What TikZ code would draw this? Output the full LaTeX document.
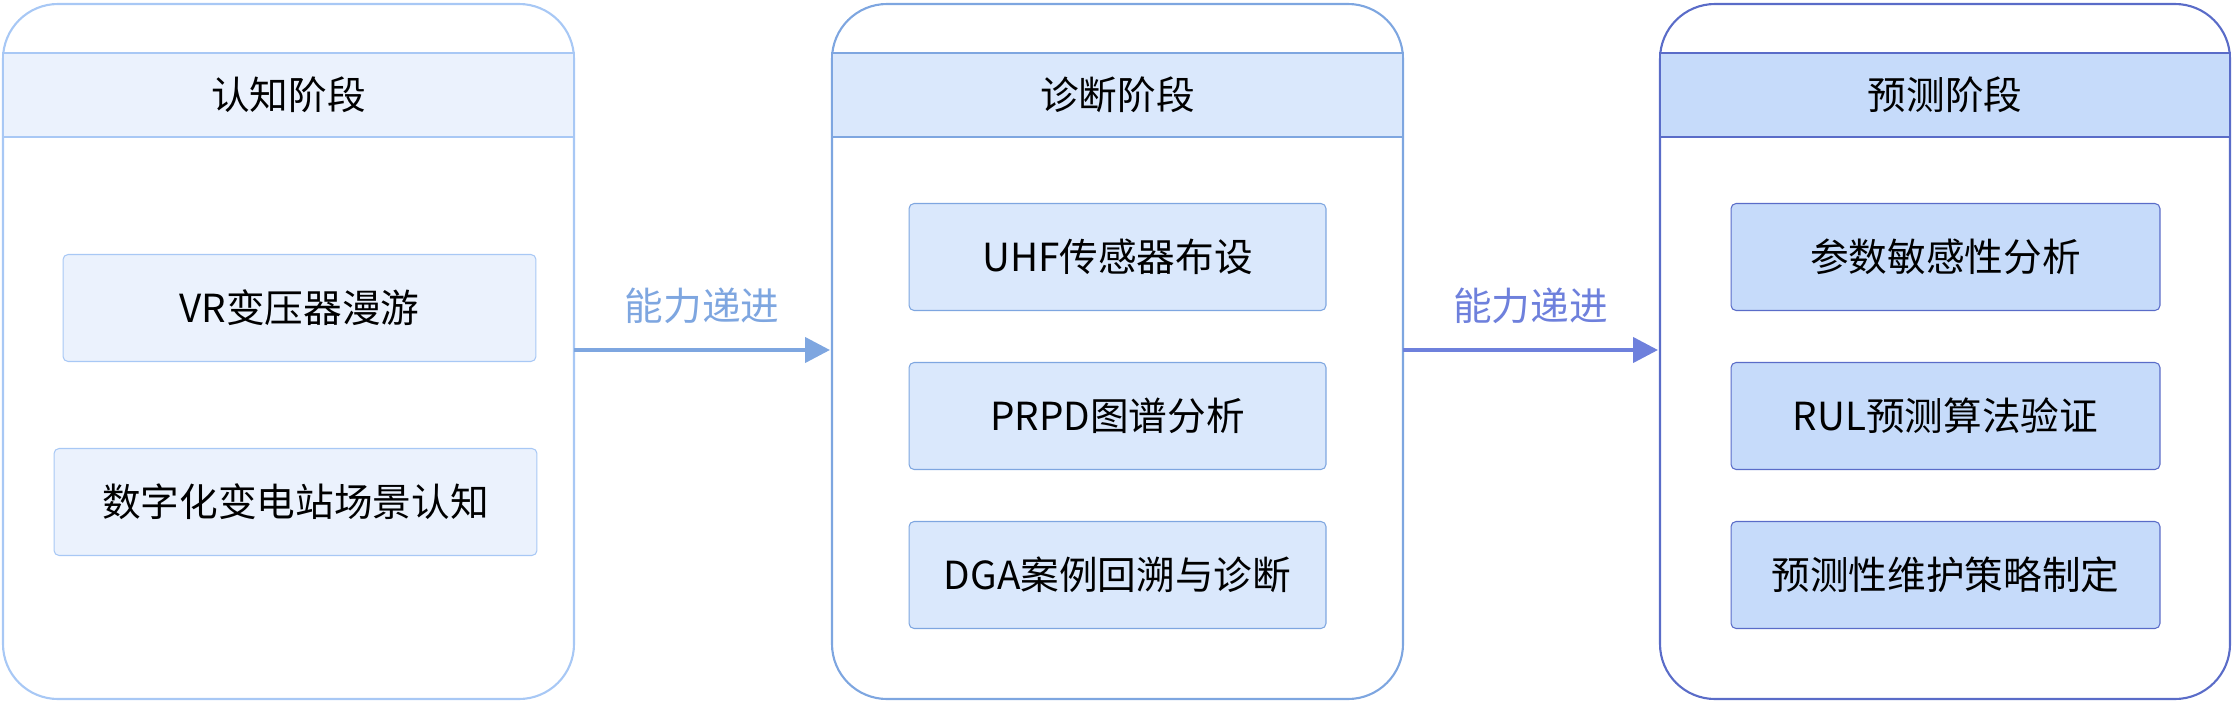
\documentclass[tikz,border=0pt]{standalone}
\usepackage{fontspec}
\setmainfont{Noto Sans CJK SC}
\usepackage{tikz}
\usetikzlibrary{positioning, arrows.meta}
\definecolor{stOneLine}{RGB}{168, 200, 245}
\definecolor{stOneFill}{RGB}{235, 242, 253}
\definecolor{stTwoLine}{RGB}{126, 166, 224}
\definecolor{stTwoFill}{RGB}{218, 232, 252}
\definecolor{stThreeLine}{RGB}{90, 108, 200}
\definecolor{stThreeFill}{RGB}{198, 219, 250}
\definecolor{stArrow}{RGB}{110, 128, 220}
\tikzset{
    base/.style={
        font=\fontsize{22}{26}\selectfont,
        align=center
    },
    stage/.style={
        rectangle,
        rounded corners=1.1cm,
        line width=1.2pt
    },
    header/.style={
        base,
        rectangle,
        line width=1pt,
        minimum height=1.68cm,
        inner sep=0pt
    },
    task/.style={
        base,
        rectangle,
        rounded corners=1mm,
        line width=0.6pt,
        minimum height=2.14cm,
        inner sep=0pt
    },
    flow/.style={
        -{Triangle[length=5mm, width=5mm]},
        line width=2.4pt
    },
    label/.style={
        base,
        inner sep=1pt
    }
}
\begin{document}
\begin{tikzpicture}[x=0.02cm, y=-0.02cm]
    \useasboundingbox (0,0) rectangle (2234,703);

    % stage frames
    \draw[stage, draw=stOneLine] (3,4) rectangle (574,699);
    \draw[stage, draw=stTwoLine] (832,4) rectangle (1403,699);
    \draw[stage, draw=stThreeLine] (1660,4) rectangle (2230,699);

    % headers
    \node[header, draw=stOneLine, fill=stOneFill, minimum width=11.42cm] (hOne) at (288.5,95) {认知阶段};
    \node[header, draw=stTwoLine, fill=stTwoFill, minimum width=11.42cm] (hTwo) at (1117.5,95) {诊断阶段};
    \node[header, draw=stThreeLine, fill=stThreeFill, minimum width=11.4cm] (hThree) at (1945,95) {预测阶段};

    % cognition tasks
    \node[task, draw=stOneLine, fill=stOneFill, minimum width=9.46cm] (vr) at (299.5,308) {VR变压器漫游};
    \node[task, draw=stOneLine, fill=stOneFill, minimum width=9.66cm] (scene) at (295.5,502) {数字化变电站场景认知};

    % diagnosis tasks
    \node[task, draw=stTwoLine, fill=stTwoFill, minimum width=8.34cm] (uhf) at (1117.5,257) {UHF传感器布设};
    \node[task, draw=stTwoLine, fill=stTwoFill, minimum width=8.34cm] (prpd) at (1117.5,416) {PRPD图谱分析};
    \node[task, draw=stTwoLine, fill=stTwoFill, minimum width=8.34cm] (dga) at (1117.5,575) {DGA案例回溯与诊断};

    % prediction tasks
    \node[task, draw=stThreeLine, fill=stThreeFill, minimum width=8.58cm] (sens) at (1945.5,257) {参数敏感性分析};
    \node[task, draw=stThreeLine, fill=stThreeFill, minimum width=8.58cm] (rul) at (1945.5,416) {RUL预测算法验证};
    \node[task, draw=stThreeLine, fill=stThreeFill, minimum width=8.58cm] (pm) at (1945.5,575) {预测性维护策略制定};

    % progression
    \coordinate (aOne) at (574,350);
    \coordinate (bOne) at (830,350);
    \coordinate (aTwo) at (1403,350);
    \coordinate (bTwo) at (1658,350);
    \draw[flow, stTwoLine] (aOne) -- (bOne) node[label, midway, above=0.45cm] (lOne) {能力递进};
    \draw[flow, stArrow] (aTwo) -- (bTwo) node[label, midway, above=0.45cm] (lTwo) {能力递进};
\end{tikzpicture}
\end{document}
